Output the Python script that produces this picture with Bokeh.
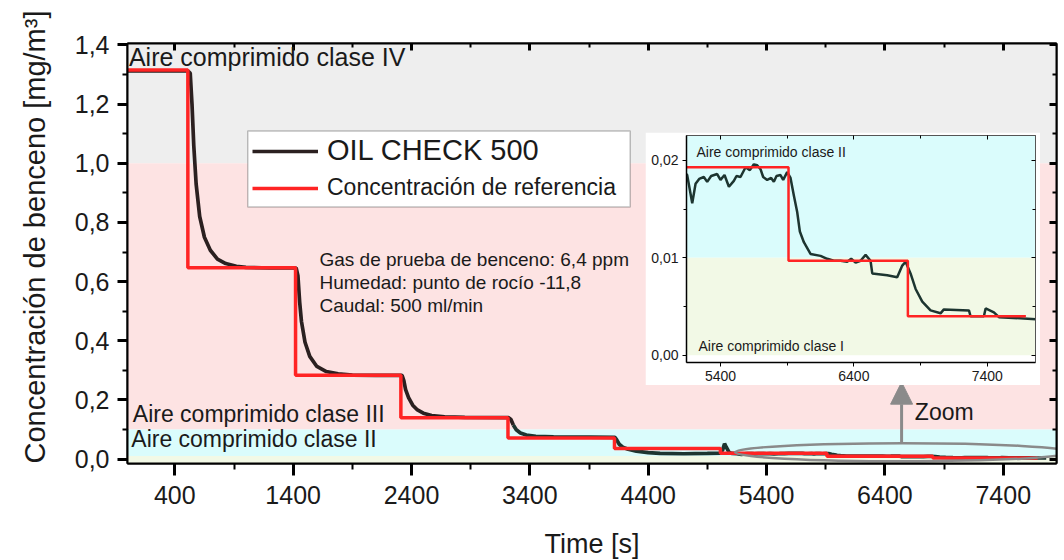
from bokeh.plotting import figure
from bokeh.models import (Range1d, LinearAxis, BoxAnnotation, Label, Legend, LegendItem, Title,
                          FixedTicker, CustomJSTickFormatter, Arrow, NormalHead)
from bokeh.embed import file_html
from bokeh.resources import INLINE

FONT = "Liberation Sans"

# ---------------- data ----------------
ref_time = [0, 510, 1420, 2310, 3215, 4115, 5010, 5910, 6805, 7690]
ref_level = [1.315, 0.647, 0.283, 0.140, 0.071, 0.036, 0.0193, 0.0097, 0.0040, 0.0040]

oil_time = [0, 300, 510, 530, 545, 560, 580, 610, 650, 700, 760, 830, 920, 1000, 1200, 1425,
            1440, 1455, 1470, 1500, 1540, 1600, 1680, 1780, 1900, 2100, 2320,
            2335, 2350, 2375, 2410, 2450, 2500, 2570, 2680, 2850, 3220,
            3240, 3260, 3285, 3320, 3370, 3450, 3600, 3900, 4120,
            4135, 4155, 4185, 4230, 4300, 4400, 4500, 4700, 4900, 5010, 5030, 5045, 5060, 5085, 5110,
            5150, 5188, 5213, 5240, 5275, 5300, 5330, 5375, 5400, 5430, 5463, 5500, 5520, 5550,
            5588, 5620, 5650, 5675, 5700, 5720, 5750, 5780, 5800, 5820, 5850, 5870, 5900, 5925,
            5950, 5975, 5995, 6025, 6075, 6150, 6200, 6250, 6300, 6350, 6380, 6413, 6450, 6488,
            6525, 6538, 6650, 6725, 6763, 6788, 6825, 6863, 6913, 6975, 7050, 7075, 7263, 7275,
            7375, 7388, 7450, 7488, 7763]
oil_value = [1.312, 1.312, 1.312, 1.305, 1.20, 1.06, 0.93, 0.82, 0.75, 0.706, 0.676, 0.661, 0.652, 0.648, 0.646, 0.646,
             0.62, 0.53, 0.465, 0.395, 0.347, 0.313, 0.296, 0.288, 0.284, 0.283, 0.283,
             0.265, 0.235, 0.208, 0.182, 0.166, 0.155, 0.147, 0.143, 0.141, 0.140,
             0.134, 0.115, 0.099, 0.088, 0.081, 0.077, 0.075, 0.074, 0.073,
             0.064, 0.050, 0.040, 0.033, 0.027, 0.022, 0.019, 0.018, 0.019, 0.020, 0.032, 0.052, 0.040, 0.022, 0.019,
             0.0185, 0.0156, 0.0176, 0.0181, 0.0183, 0.0178, 0.0184, 0.0186, 0.0180, 0.0185, 0.0173, 0.0179, 0.0184, 0.0183,
             0.0193, 0.0190, 0.0196, 0.0195, 0.0191, 0.0183, 0.0180, 0.0182, 0.0178, 0.0184, 0.0185, 0.0180, 0.0188, 0.0182,
             0.0164, 0.0147, 0.0127, 0.0116, 0.0104, 0.0102, 0.0099, 0.0097, 0.0097, 0.0096, 0.0099, 0.0095, 0.0097, 0.0103,
             0.0097, 0.0084, 0.0082, 0.0080, 0.0092, 0.0096, 0.0084, 0.0068, 0.0055, 0.0046, 0.0043, 0.0047, 0.0046, 0.0040,
             0.0040, 0.0048, 0.0044, 0.0039, 0.0037]

x_ticks = [400, 1400, 2400, 3400, 4400, 5400, 6400, 7400]
y_ticks = [0.0, 0.2, 0.4, 0.6, 0.8, 1.0, 1.2, 1.4]
y_tick_labels = ["0,0", "0,2", "0,4", "0,6", "0,8", "1,0", "1,2", "1,4"]
inset_x_ticks = [5400, 6400, 7400]
inset_y_ticks = [0.0, 0.01, 0.02]
inset_y_tick_labels = ["0,00", "0,01", "0,02"]
class_limits = [0.01, 0.1, 1.0]
class_names = ["Aire comprimido clase I", "Aire comprimido clase II",
               "Aire comprimido clase III", "Aire comprimido clase IV"]
conditions = ["Gas de prueba de benceno: 6,4 ppm", "Humedad: punto de rocío -11,8", "Caudal: 500 ml/min"]
series_names = ["OIL CHECK 500", "Concentración de referencia"]
x_title = "Time [s]"
y_title = "Concentración de benceno [mg/m³]"

C_GRAY, C_PINK, C_CYAN, C_GREEN = "#eeeeee", "#fde3e3", "#dafcfc", "#f2f9e6"
C_OIL1, C_OIL2, C_REF = "#2b2020", "#1d3530", "#ff2424"
TXT = "#1a1a1a"

split = next(i for i, t in enumerate(oil_time) if t >= 3260)

# ---------------- main figure ----------------
p = figure(frame_width=929, frame_height=420, min_border_left=127, min_border_right=8,
           min_border_top=43, min_border_bottom=96,
           x_range=Range1d(0, 7850), y_range=Range1d(-0.015, 1.405),
           toolbar_location=None, output_backend="svg",
           background_fill_color="white", border_fill_color="white")
p.xgrid.visible = False
p.ygrid.visible = False
p.outline_line_color = "black"
p.outline_line_width = 2

# class bands
p.add_layout(BoxAnnotation(bottom=class_limits[2], fill_color=C_GRAY, fill_alpha=1, line_alpha=0, level="underlay"))
p.add_layout(BoxAnnotation(bottom=class_limits[1], top=class_limits[2], fill_color=C_PINK, fill_alpha=1, line_alpha=0, level="underlay"))
p.add_layout(BoxAnnotation(bottom=class_limits[0], top=class_limits[1], fill_color=C_CYAN, fill_alpha=1, line_alpha=0, level="underlay"))
p.add_layout(BoxAnnotation(top=class_limits[0], fill_color=C_GREEN, fill_alpha=1, line_alpha=0, level="underlay"))

r_oil1 = p.line(oil_time[:split + 1], oil_value[:split + 1], line_color=C_OIL1, line_width=3.7)
r_oil2 = p.line(oil_time[split:], oil_value[split:], line_color=C_OIL2, line_width=3.7)
r_ref = p.step(ref_time, ref_level, mode="after", line_color=C_REF, line_width=3.5)

minor_x = [t - 500 for t in x_ticks] + [x_ticks[-1] + 500]
minor_y = [v + 0.1 for v in y_ticks[:-1]]

xa = p.xaxis[0]
xa.ticker = FixedTicker(ticks=x_ticks, minor_ticks=minor_x)
xa.axis_label = x_title
ya = p.yaxis[0]
ya.ticker = FixedTicker(ticks=y_ticks, minor_ticks=minor_y)
ya.major_label_overrides = {v: s for v, s in zip(y_ticks, y_tick_labels)}
for ax in (xa, ya):
    ax.axis_line_color = "black"
    ax.axis_line_width = 2
    ax.major_tick_line_width = 3
    ax.minor_tick_line_width = 2
    ax.major_tick_in = 0
    ax.minor_tick_in = 0
    ax.major_label_text_font = FONT
    ax.major_label_text_font_size = "25px"
    ax.major_label_text_color = TXT
    ax.axis_label_text_font = FONT
    ax.axis_label_text_font_size = "27px"
    ax.axis_label_text_font_style = "normal"
    ax.axis_label_text_color = TXT
xa.major_tick_out = 12
xa.minor_tick_out = 6
xa.major_label_standoff = 10
xa.axis_label_standoff = 22
ya.major_tick_out = 10
ya.minor_tick_out = 5
ya.major_label_standoff = 8

# y title as a side title, starting at the frame bottom as in the original
p.add_layout(Title(text=y_title, align="left", vertical_align="top", standoff=37, text_font=FONT,
                   text_font_size="29px", text_font_style="normal", text_color=TXT), "left")

blank = CustomJSTickFormatter(code="return ''")
top_ax = LinearAxis(ticker=FixedTicker(ticks=x_ticks, minor_ticks=minor_x), formatter=blank)
right_ax = LinearAxis(ticker=FixedTicker(ticks=y_ticks, minor_ticks=minor_y), formatter=blank)
for ax in (top_ax, right_ax):
    ax.major_tick_out = 0
    ax.minor_tick_out = 0
    ax.major_tick_in = 7
    ax.minor_tick_in = 4
    ax.major_tick_line_width = 3
    ax.minor_tick_line_width = 2
    ax.axis_line_width = 2
    ax.major_label_standoff = 0
    ax.major_label_text_font_size = "0px"
p.add_layout(top_ax, "above")
p.add_layout(right_ax, "right")

# class labels
p.add_layout(Label(x=12, y=1.361, text=class_names[3], text_font=FONT, text_font_size="25px",
                   text_color=TXT, text_baseline="alphabetic"))
p.add_layout(Label(x=45, y=0.154, text=class_names[2], text_font=FONT, text_font_size="23px",
                   text_color=TXT, text_baseline="alphabetic"))
p.add_layout(Label(x=32, y=0.069, text=class_names[1], text_font=FONT, text_font_size="23px",
                   text_color=TXT, text_baseline="alphabetic"))

# conditions text
for i, s in enumerate(conditions):
    p.add_layout(Label(x=1622, y=0.676 - i * 0.079, text=s, text_font=FONT, text_font_size="19px",
                       text_color=TXT, text_baseline="alphabetic"))

# zoom marker
p.ellipse(x=6552, y=0.023, width=2835, height=0.061, fill_alpha=0, line_color="#8a8a8a", line_width=2.5)
p.add_layout(Arrow(end=NormalHead(size=22, fill_color="#8a8a8a", line_color="#8a8a8a"),
                   x_start=6541, y_start=0.056, x_end=6541, y_end=0.26,
                   line_color="#8a8a8a", line_width=3))
p.add_layout(Label(x=6653, y=0.160, text="Zoom", text_font=FONT, text_font_size="23px",
                   text_color=TXT, text_baseline="alphabetic"))

# legend (box + two legends with different font sizes)
p.add_layout(BoxAnnotation(left=1016, right=4248, bottom=0.852, top=1.1095, fill_color="white",
                           fill_alpha=1, line_color="#333333", line_width=1.5, level="annotation"))
leg1 = Legend(items=[LegendItem(label=series_names[0], renderers=[r_oil1])], location=(125, 296),
              label_text_font=FONT, label_text_font_size="29px", label_text_color=TXT,
              glyph_width=66, glyph_height=30, label_height=30, label_standoff=9,
              padding=0, margin=0, spacing=0, border_line_alpha=0, background_fill_alpha=0)
leg2 = Legend(items=[LegendItem(label=series_names[1], renderers=[r_ref])], location=(125, 262),
              label_text_font=FONT, label_text_font_size="23px", label_text_color=TXT,
              glyph_width=66, glyph_height=26, label_height=26, label_standoff=9,
              padding=0, margin=0, spacing=0, border_line_alpha=0, background_fill_alpha=0)
p.add_layout(leg1, "center")
p.add_layout(leg2, "center")

# ---------------- inset ----------------
ins = figure(width=395, height=253, min_border_left=41, min_border_right=5, min_border_top=3,
             min_border_bottom=23, x_range=Range1d(5145, 7762), y_range=Range1d(-0.00075, 0.02256),
             toolbar_location=None, output_backend="svg",
             background_fill_color="white", border_fill_color="white")
ins.xgrid.visible = False
ins.ygrid.visible = False
ins.outline_line_color = "#555555"
ins.outline_line_width = 1
ins.add_layout(BoxAnnotation(bottom=class_limits[0], fill_color=C_CYAN, fill_alpha=1, line_alpha=0, level="underlay"))
ins.add_layout(BoxAnnotation(bottom=0, top=class_limits[0], fill_color=C_GREEN, fill_alpha=1, line_alpha=0, level="underlay"))
ins.line(oil_time, oil_value, line_color=C_OIL2, line_width=2.5)
ins.step(ref_time, ref_level, mode="after", line_color=C_REF, line_width=2.5)

ixa = ins.xaxis[0]
iya = ins.yaxis[0]
ixa.ticker = FixedTicker(ticks=inset_x_ticks, minor_ticks=[t + 500 for t in inset_x_ticks[:-1]])
iya.ticker = FixedTicker(ticks=inset_y_ticks, minor_ticks=[v + 0.005 for v in inset_y_ticks[:-1]])
iya.major_label_overrides = {v: s for v, s in zip(inset_y_ticks, inset_y_tick_labels)}
for ax in (ixa, iya):
    ax.axis_line_color = "black"
    ax.axis_line_width = 1.5
    ax.major_tick_out = 4
    ax.minor_tick_out = 3
    ax.major_tick_in = 0
    ax.minor_tick_in = 0
    ax.major_label_text_font = FONT
    ax.major_label_text_font_size = "14px"
    ax.major_label_text_color = TXT
    ax.major_label_standoff = 4
itop = LinearAxis(ticker=FixedTicker(ticks=inset_x_ticks, minor_ticks=[t + 500 for t in inset_x_ticks[:-1]]), formatter=blank)
iright = LinearAxis(ticker=FixedTicker(ticks=inset_y_ticks, minor_ticks=[v + 0.005 for v in inset_y_ticks[:-1]]), formatter=blank)
for ax in (itop, iright):
    ax.major_tick_out = 0
    ax.minor_tick_out = 0
    ax.major_tick_in = 4
    ax.minor_tick_in = 3
    ax.axis_line_color = "#555555"
    ax.axis_line_width = 1
    ax.major_label_standoff = 0
    ax.major_label_text_font_size = "0px"
ins.add_layout(itop, "above")
ins.add_layout(iright, "right")

ins.add_layout(Label(x=5220, y=0.0209, text=class_names[1], text_font=FONT, text_font_size="14px",
                     text_color=TXT, text_baseline="alphabetic"))
ins.add_layout(Label(x=5235, y=0.0009, text=class_names[0], text_font=FONT, text_font_size="14px",
                     text_color=TXT, text_baseline="alphabetic"))

ins.styles = {"position": "absolute", "left": "645px", "top": "132px", "z-index": "5"}

open("out.html", "w").write(file_html([p, ins], INLINE))
